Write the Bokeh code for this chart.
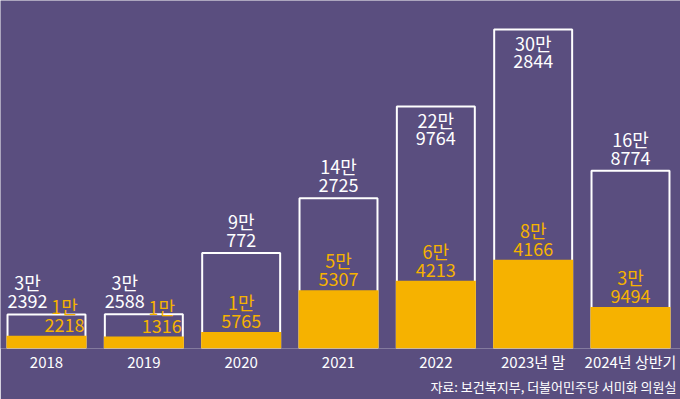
from bokeh.plotting import figure
from bokeh.models import Range1d, FixedTicker, Title, ColumnDataSource
from bokeh.core.properties import value
from bokeh.embed import file_html
from bokeh.resources import INLINE

categories = ["2018", "2019", "2020", "2021", "2022", "2023년 말", "2024년 상반기"]
total = [32392, 32588, 90772, 142725, 229764, 302844, 168774]
subset = [12218, 11316, 15765, 55307, 64213, 84166, 39494]
source_note = "자료: 보건복지부, 더불어민주당 서미화 의원실"

BG = "#5a4e7f"
ORANGE = "#f6b200"
WHITE = "#ffffff"
FONT = "Noto Sans CJK KR"
LINE = 19
SHIFT = -6  # renderer's alphabetic anchor sits above the digit bottoms

X0, X1 = -0.4726, 6.5137
Y1 = 330370
FRAME_H = 348

x = list(range(len(categories)))

p = figure(width=680, height=399, output_backend="svg", toolbar_location=None,
           x_range=Range1d(X0, X1), y_range=Range1d(0, Y1),
           min_border_left=0, min_border_right=0, min_border_top=0,
           min_border_bottom=399 - FRAME_H)
p.background_fill_color = BG
p.border_fill_color = BG
p.outline_line_color = None
p.grid.visible = False
p.yaxis.visible = False

# outline boxes (total)
p.vbar(x=x, top=total, bottom=0, width=0.801, fill_color=None,
       line_color=WHITE, line_width=2)
# filled part (subset)
p.vbar(x=x, top=subset, bottom=0, width=0.822, fill_color=ORANGE, line_color=None)


def two_line(xs, ys, nums, dxs, color, first_dy, second_dy):
    src = ColumnDataSource(dict(
        x=xs, y=ys,
        a=[f"{n // 10000}만" for n in nums],
        b=[f"{n % 10000}" for n in nums],
        dx=dxs))
    common = dict(source=src, text_color=color, text_font=value(FONT),
                  text_font_size="18px", text_align="center",
                  text_baseline="alphabetic")
    p.text(x="x", y="y", text="a", x_offset="dx", y_offset=first_dy + SHIFT, **common)
    p.text(x="x", y="y", text="b", x_offset="dx", y_offset=second_dy + SHIFT, **common)


# white labels: above the box, or inside for the tallest boxes
ab_x, ab_y, ab_dx, in_x, in_y = [], [], [], [], []
for i, (t, s) in enumerate(zip(total, subset)):
    if t > 200000:
        in_x.append(i); in_y.append(t)
    else:
        ab_x.append(i); ab_y.append(t); ab_dx.append(-19 if s < 14000 else 0)

two_line(ab_x, ab_y, ab_y, ab_dx, WHITE, -7 - LINE, -7)
two_line(in_x, in_y, in_y, [0] * len(in_x), WHITE, 20, 20 + 18)

# orange labels
two_line(x, subset, subset, [18 if s < 14000 else 0 for s in subset],
         ORANGE, -5 - LINE, -5)

ax = p.xaxis[0]
ax.ticker = FixedTicker(ticks=x)
ax.major_label_overrides = {i: c for i, c in enumerate(categories)}
ax.axis_line_color = None
ax.major_tick_line_color = None
ax.minor_tick_line_color = None
ax.major_tick_out = 0
ax.major_tick_in = 0
ax.major_label_text_color = WHITE
ax.major_label_text_font = FONT
ax.major_label_text_font_size = "15px"
ax.major_label_standoff = 2

note = Title(text=source_note, align="right", text_color=WHITE, text_font=FONT,
             text_font_size="13px", text_font_style="normal", offset=4, standoff=0)
p.add_layout(note, "below")

open("out.html", "w").write(file_html(p, INLINE))
